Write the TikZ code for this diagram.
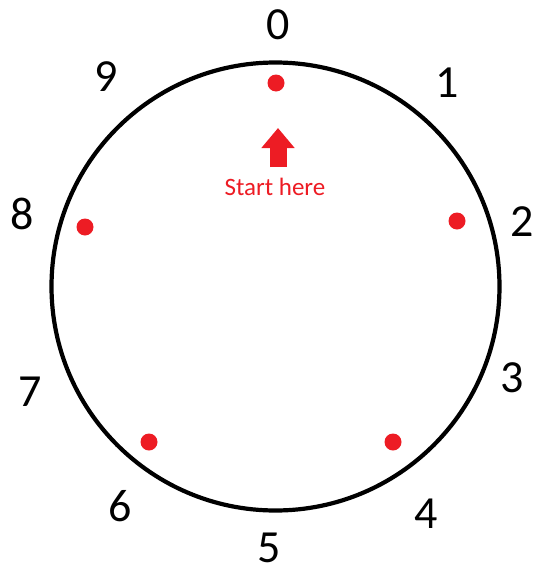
\documentclass[tikz,border=0pt]{standalone}
\usepackage{fontspec}
\setmainfont{Carlito}
\usepackage{tikz}
\usetikzlibrary{arrows.meta}
\definecolor{markred}{RGB}{237,28,36}

\begin{document}
\begin{tikzpicture}[x=1pt,y=-1pt,
  rdot/.style={circle,fill=markred,inner sep=0pt,minimum size=17pt},
  numlabel/.style={inner sep=0pt,font=\fontsize{46}{50}\selectfont},
  every path/.style={line width=4.2pt}]
\useasboundingbox (0,0) rectangle (540,573);
\coordinate (o) at (275.5,286.5);
\draw (o) circle [radius=224];
\node[rdot] (d0) at (276,83) {};
\node[rdot] (d2) at (457,221) {};
\node[rdot] (d4) at (393,442) {};
\node[rdot] (d6) at (149,442) {};
\node[rdot] (d8) at (85,227) {};
\node[numlabel] (n0) at (278,25) {0};
\node[numlabel] (n1) at (447,83) {1};
\node[numlabel] (n2) at (522,222) {2};
\node[numlabel] (n3) at (512,378) {3};
\node[numlabel] (n4) at (426,514) {4};
\node[numlabel] (n5) at (269,548) {5};
\node[numlabel] (n6) at (120,506) {6};
\node[numlabel] (n7) at (30,392) {7};
\node[numlabel] (n8) at (22,214) {8};
\node[numlabel] (n9) at (106,77) {9};
\coordinate (tail) at (278,167);
\coordinate (tip) at (278,128);
\draw[markred,line width=17pt,-{Triangle[length=20pt,width=32pt]}] (tail) -- (tip);
\node[font=\fontsize{25}{30}\selectfont,text=markred,anchor=base,inner sep=0pt] (start) at (275,195) {Start here};
\end{tikzpicture}
\end{document}
